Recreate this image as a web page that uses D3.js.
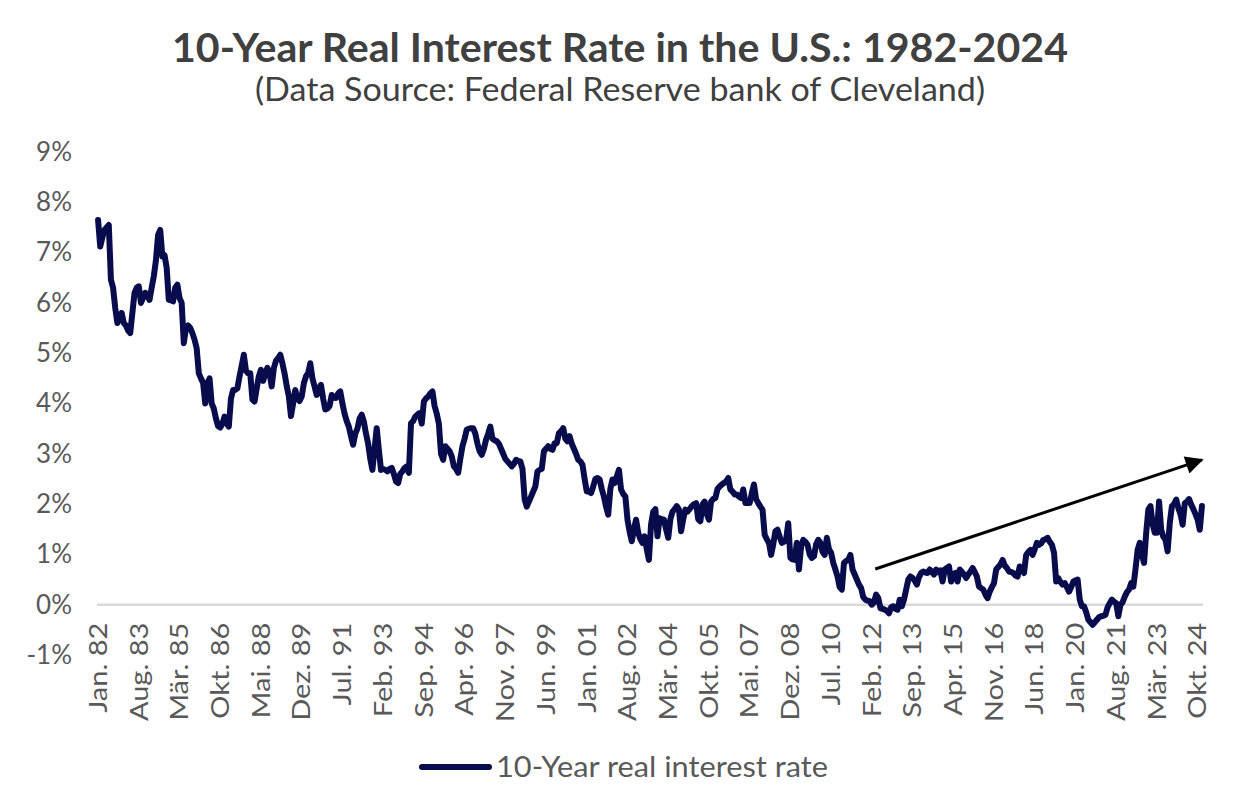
<!DOCTYPE html>
<html>
<head>
<meta charset="utf-8">
<script src="https://cdn.jsdelivr.net/npm/d3@7"></script>
<style>
  html, body { margin: 0; padding: 0; background: #ffffff; }
  svg { display: block; font-family: Lato, "Open Sans", sans-serif; }
</style>
</head>
<body>
<svg id="chart" width="1238" height="810"></svg>
<script>
// ---- Data (monthly, Jan 1982 – Dec 2024), in percent ----
const rate = [
  7.65, 7.12, 7.30, 7.45, 7.50, 7.55, 6.46, 6.30, 5.90, 5.60, 5.70, 5.80, // 1982
  5.60, 5.55, 5.45, 5.40, 5.80, 6.20, 6.30, 6.33, 6.00, 6.10, 6.20, 6.15, // 1983
  6.06, 6.30, 6.53, 6.85, 7.35, 7.45, 6.92, 6.95, 6.70, 6.06, 6.05, 6.03, // 1984
  6.30, 6.36, 6.10, 6.00, 5.20, 5.50, 5.55, 5.50, 5.40, 5.27, 5.10, 4.60, // 1985
  4.50, 4.41, 4.00, 4.40, 4.50, 4.00, 3.90, 3.70, 3.55, 3.52, 3.60, 3.74, // 1986
  3.60, 3.54, 4.10, 4.27, 4.27, 4.30, 4.54, 4.75, 4.97, 4.65, 4.60, 4.60, // 1987
  4.08, 4.04, 4.30, 4.54, 4.67, 4.45, 4.60, 4.71, 4.60, 4.34, 4.70, 4.85, // 1988
  4.90, 4.97, 4.80, 4.60, 4.35, 4.14, 3.75, 4.00, 4.27, 4.10, 4.05, 4.14, // 1989
  4.40, 4.54, 4.60, 4.80, 4.50, 4.34, 4.17, 4.30, 4.37, 4.10, 3.88, 3.90, // 1990
  3.95, 4.17, 4.12, 4.11, 4.20, 4.24, 4.00, 3.80, 3.65, 3.54, 3.35, 3.18, // 1991
  3.40, 3.50, 3.70, 3.78, 3.64, 3.40, 3.20, 2.90, 2.68, 3.10, 3.51, 3.08, // 1992
  2.68, 2.70, 2.68, 2.65, 2.70, 2.72, 2.60, 2.45, 2.42, 2.60, 2.65, 2.72, // 1993
  2.75, 2.62, 3.61, 3.65, 3.74, 3.78, 3.81, 3.60, 4.04, 4.10, 4.14, 4.20, // 1994
  4.24, 3.95, 3.80, 3.60, 3.00, 2.88, 3.15, 3.10, 3.05, 2.95, 2.75, 2.70, // 1995
  2.62, 2.90, 3.15, 3.30, 3.48, 3.50, 3.51, 3.51, 3.40, 3.20, 3.05, 2.98, // 1996
  3.10, 3.28, 3.40, 3.54, 3.30, 3.27, 3.25, 3.20, 3.10, 3.00, 2.90, 2.85, // 1997
  2.80, 2.75, 2.80, 2.88, 2.86, 2.85, 2.70, 2.10, 1.95, 2.05, 2.15, 2.25, // 1998
  2.35, 2.65, 2.68, 2.70, 3.05, 3.10, 3.15, 3.10, 3.08, 3.21, 3.21, 3.41, // 1999
  3.45, 3.51, 3.30, 3.25, 3.35, 3.20, 3.10, 3.00, 2.88, 2.85, 2.78, 2.50, // 2000
  2.25, 2.25, 2.22, 2.35, 2.50, 2.52, 2.49, 2.30, 2.15, 1.95, 1.79, 2.30, // 2001
  2.49, 2.42, 2.55, 2.68, 2.29, 2.20, 2.15, 1.69, 1.45, 1.26, 1.50, 1.69, // 2002
  1.43, 1.30, 1.23, 1.36, 1.10, 0.89, 1.60, 1.85, 1.90, 1.36, 1.72, 1.70, // 2003
  1.69, 1.50, 1.33, 1.70, 1.85, 1.90, 1.96, 1.89, 1.46, 1.70, 1.89, 1.85, // 2004
  1.90, 1.96, 2.00, 2.02, 1.70, 1.66, 1.99, 2.05, 1.80, 1.69, 2.05, 2.10, // 2005
  2.12, 2.30, 2.35, 2.39, 2.42, 2.45, 2.52, 2.29, 2.25, 2.19, 2.19, 2.15, // 2006
  2.12, 2.29, 2.02, 2.02, 2.02, 2.22, 2.39, 2.10, 2.02, 1.95, 1.89, 1.39, // 2007
  1.30, 1.23, 0.99, 1.20, 1.46, 1.49, 1.35, 1.23, 1.25, 1.29, 1.62, 0.93, // 2008
  0.90, 0.89, 1.23, 0.70, 1.16, 1.29, 1.25, 1.19, 1.00, 0.93, 0.96, 1.20, // 2009
  1.29, 1.23, 1.05, 0.99, 1.33, 1.10, 1.03, 0.83, 0.70, 0.56, 0.35, 0.30, // 2010
  0.83, 0.87, 0.89, 0.99, 0.70, 0.60, 0.50, 0.40, 0.33, 0.15, 0.10, 0.08, // 2011
  0.07, 0.00, 0.05, 0.20, 0.13, -0.07, -0.08, -0.10, -0.12, -0.17, -0.05, -0.03, // 2012
  -0.08, -0.10, 0.10, -0.03, 0.10, 0.30, 0.50, 0.56, 0.53, 0.48, 0.40, 0.55, // 2013
  0.63, 0.66, 0.64, 0.63, 0.70, 0.65, 0.60, 0.70, 0.65, 0.68, 0.46, 0.70, // 2014
  0.73, 0.76, 0.46, 0.60, 0.63, 0.46, 0.70, 0.65, 0.60, 0.53, 0.60, 0.66, // 2015
  0.73, 0.65, 0.56, 0.36, 0.33, 0.30, 0.20, 0.13, 0.26, 0.35, 0.43, 0.70, // 2016
  0.75, 0.80, 0.89, 0.78, 0.73, 0.66, 0.65, 0.63, 0.58, 0.56, 0.76, 0.70, // 2017
  0.63, 0.99, 1.05, 1.09, 0.99, 1.10, 1.23, 1.19, 1.22, 1.29, 1.30, 1.33, // 2018
  1.25, 1.19, 1.03, 0.46, 0.53, 0.45, 0.40, 0.43, 0.35, 0.26, 0.35, 0.46, // 2019
  0.48, 0.50, 0.10, -0.03, -0.03, -0.15, -0.30, -0.35, -0.40, -0.35, -0.30, -0.25, // 2020
  -0.23, -0.22, -0.20, -0.05, 0.03, 0.10, 0.06, 0.03, -0.23, 0.00, 0.05, 0.16, // 2021
  0.25, 0.30, 0.43, 0.36, 0.70, 1.09, 1.23, 1.00, 0.83, 1.43, 1.89, 1.96, // 2022
  1.60, 1.43, 1.43, 2.05, 1.49, 1.35, 1.29, 1.06, 1.62, 1.96, 2.00, 2.09, // 2023
  1.92, 1.80, 1.59, 2.02, 2.05, 2.10, 1.99, 1.90, 1.80, 1.69, 1.49, 1.96  // 2024
];

const tickLabels = [
  "Jan. 82", "Aug. 83", "Mär. 85", "Okt. 86", "Mai. 88", "Dez. 89", "Jul. 91",
  "Feb. 93", "Sep. 94", "Apr. 96", "Nov. 97", "Jun. 99", "Jan. 01", "Aug. 02",
  "Mär. 04", "Okt. 05", "Mai. 07", "Dez. 08", "Jul. 10", "Feb. 12", "Sep. 13",
  "Apr. 15", "Nov. 16", "Jun. 18", "Jan. 20", "Aug. 21", "Mär. 23", "Okt. 24"
];
const tickStep = 19;           // months between category labels
const yTicks = [-1, 0, 1, 2, 3, 4, 5, 6, 7, 8, 9];
const seriesName = "10-Year real interest rate";
const titleText = "10-Year Real Interest Rate in the U.S.: 1982-2024";
const subtitleText = "(Data Source: Federal Reserve bank of Cleveland)";
// trend arrow annotation, in data units: [month index, percent]
const arrowFrom = [362.6, 0.71];
const arrowTo = [515.0, 2.88];

// ---- Drawing ----
const svg = d3.select("#chart");
const plot = { left: 97, right: 1203, top: 152, bottom: 655 };
const lineColor = "#080c4c";
const textColor = "#595959";

const months = d3.range(rate.length);
const x = d3.scaleBand().domain(months).range([plot.left, plot.right]);
const xPos = i => plot.left + (i + 0.5) * x.step();   // fractional month position
const y = d3.scaleLinear().domain([-1, 9]).range([plot.bottom, plot.top]);

// Title
svg.append("text")
  .attr("x", 620).attr("y", 62)
  .attr("text-anchor", "middle")
  .attr("font-size", 40).attr("font-weight", 700)
  .attr("fill", "#404040")
  .attr("textLength", 896).attr("lengthAdjust", "spacingAndGlyphs")
  .text(titleText);
svg.append("text")
  .attr("x", 620).attr("y", 101)
  .attr("text-anchor", "middle")
  .attr("font-size", 32)
  .attr("fill", "#404040")
  .attr("textLength", 730).attr("lengthAdjust", "spacingAndGlyphs")
  .text(subtitleText);

// Y axis
const yAxis = svg.append("g")
  .attr("transform", `translate(${plot.left},0)`)
  .call(d3.axisLeft(y).tickValues(yTicks).tickSize(0).tickPadding(25).tickFormat(d => d + "%"));
yAxis.select(".domain").remove();
yAxis.selectAll("text")
  .attr("font-size", 26).attr("fill", textColor)
  .attr("font-family", "Lato, sans-serif");

// Zero baseline (category axis)
svg.append("line")
  .attr("x1", plot.left).attr("x2", plot.right)
  .attr("y1", y(0)).attr("y2", y(0))
  .attr("stroke", "#d9d9d9").attr("stroke-width", 2.5);

// X axis labels
const xTickVals = d3.range(0, rate.length, tickStep).filter((d, i) => i < tickLabels.length);
const xAxis = svg.append("g")
  .attr("transform", `translate(0,${y(0)})`)
  .call(d3.axisBottom(x).tickValues(xTickVals).tickSize(0).tickFormat(d => tickLabels[d / tickStep]));
xAxis.select(".domain").remove();
xAxis.selectAll("text")
  .attr("font-size", 29).attr("fill", textColor)
  .attr("font-family", "Lato, sans-serif")
  .attr("transform", "rotate(-90) scale(1,0.86)")
  .attr("text-anchor", "end")
  .attr("x", -18).attr("y", 0).attr("dy", "0.35em");

// Series line
const line = d3.line()
  .x((d, i) => x(i) + x.bandwidth() / 2)
  .y(d => y(d))
  .curve(d3.curveLinear);
svg.append("path")
  .datum(rate)
  .attr("d", line)
  .attr("fill", "none")
  .attr("stroke", lineColor)
  .attr("stroke-width", 6)
  .attr("stroke-linejoin", "round")
  .attr("stroke-linecap", "round");

// Trend arrow
const defs = svg.append("defs");
defs.append("marker")
  .attr("id", "arrowhead")
  .attr("viewBox", "0 0 10 10")
  .attr("refX", 9).attr("refY", 5)
  .attr("markerUnits", "userSpaceOnUse")
  .attr("markerWidth", 24).attr("markerHeight", 18)
  .attr("orient", "auto")
  .append("path")
  .attr("d", "M0,0 L10,5 L0,10 Z")
  .attr("fill", "#000");
svg.append("line")
  .attr("x1", xPos(arrowFrom[0])).attr("y1", y(arrowFrom[1]))
  .attr("x2", xPos(arrowTo[0])).attr("y2", y(arrowTo[1]))
  .attr("stroke", "#000").attr("stroke-width", 3)
  .attr("marker-end", "url(#arrowhead)");

// Legend
const legend = svg.append("g").attr("transform", "translate(0,767)");
legend.append("line")
  .attr("x1", 422).attr("x2", 489).attr("y1", 0).attr("y2", 0)
  .attr("stroke", lineColor).attr("stroke-width", 6).attr("stroke-linecap", "round");
legend.append("text")
  .attr("x", 496).attr("y", 0).attr("dy", "0.35em")
  .attr("font-size", 28).attr("fill", textColor)
  .attr("textLength", 332).attr("lengthAdjust", "spacingAndGlyphs")
  .text(seriesName);
</script>
</body>
</html>
